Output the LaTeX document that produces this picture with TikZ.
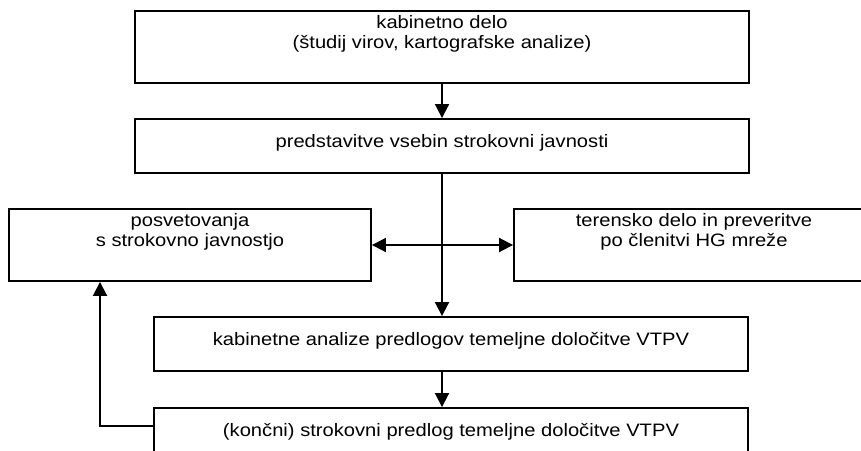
\documentclass[tikz,border=0pt]{standalone}
\usepackage{fontspec}
\setmainfont{Liberation Sans}[FakeStretch=1.12]
\usetikzlibrary{arrows.meta}
\begin{document}
\begin{tikzpicture}[x=1pt,y=-1pt,
  box/.style={draw=black, line width=1.9pt, fill=white, inner sep=0pt, align=center,
    font=\fontsize{18}{19.5}\selectfont, text height=12.8pt, text depth=10pt},
  conn/.style={line width=1.9pt, draw=black},
  arr/.style={conn, -{Triangle[length=14pt,width=14pt]}},
  darr/.style={conn, {Triangle[length=14pt,width=14pt]}-{Triangle[length=14pt,width=14pt]}}
]
\useasboundingbox (0,0) rectangle (861,450);
\fill[white] (0,0) rectangle (861,450);
\clip (0,0) rectangle (861,450);
\node[box, minimum width=614pt, minimum height=72pt] (b1) at (442,47) {kabinetno delo\\(študij virov, kartografske analize)};
\node[box, minimum width=614pt, minimum height=54pt] (b2) at (442,146) {predstavitve vsebin strokovni javnosti};
\node[box, minimum width=362pt, minimum height=72pt] (posv) at (190,245) {posvetovanja\\s strokovno javnostjo};
\node[box, minimum width=360pt, minimum height=72pt] (teren) at (694,245) {terensko delo in preveritve\\po členitvi HG mreže};
\node[box, minimum width=594pt, minimum height=54pt] (kab) at (451,344) {kabinetne analize predlogov temeljne določitve VTPV};
\node[box, minimum width=594pt, minimum height=54pt] (fin) at (451,435) {(končni) strokovni predlog temeljne določitve VTPV};
\coordinate (fb) at (100,426);
\draw[arr] (b1.south) -- (b2.north);
\draw[arr] (b2.south) -- (b2.south |- kab.north);
\draw[darr] (posv.east) -- (teren.west);
\draw[arr] (b2.south |- kab.south) -- (b2.south |- fin.north);
\draw[arr] (fin.west |- fb) -- (fb) -- (fb |- posv.south);
\end{tikzpicture}
\end{document}
